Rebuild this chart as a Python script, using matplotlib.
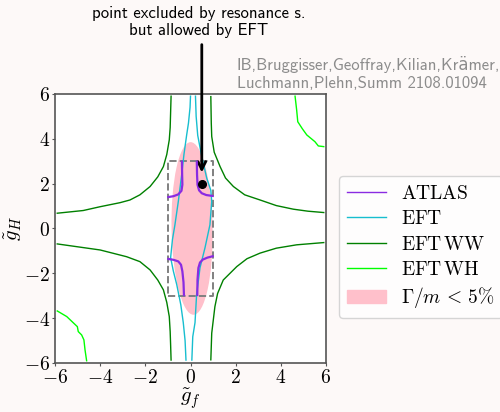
import numpy as np
import matplotlib.pyplot as plt
from matplotlib.patches import Ellipse

plt.rcParams['mathtext.fontset'] = 'cm'

# EFT WW contour (four branches)
ww_tl_x = [-0.86, -0.88, -0.90, -0.94, -1.05, -1.2, -1.45, -1.79, -2.24, -2.68, -3.12, -4.0, -4.75, -5.9]
ww_tl_y = [5.9, 5.2, 4.5, 3.95, 3.3, 2.76, 2.3, 1.87, 1.5, 1.27, 1.15, 0.97, 0.8, 0.68]
ww_bl_x = [-5.9, -4.0, -2.83, -2.24, -1.79, -1.45, -1.2, -1.05, -0.94, -0.9, -0.88, -0.86]
ww_bl_y = [-0.69, -0.96, -1.26, -1.48, -1.85, -2.3, -2.74, -3.3, -3.93, -4.6, -5.2, -5.87]
ww_tr_x = [0.9, 0.92, 0.94, 1.05, 1.31, 1.55, 1.9, 2.4, 3.08, 3.8, 4.55, 5.2, 5.9]
ww_tr_y = [5.88, 4.7, 4.1, 3.4, 2.76, 2.25, 1.87, 1.5, 1.27, 1.02, 0.86, 0.77, 0.71]
ww_br_x = [5.9, 4.7, 3.8, 3.08, 2.5, 2.05, 1.45, 1.2, 1.08, 0.94, 0.9]
ww_br_y = [-0.63, -0.73, -0.88, -1.1, -1.35, -1.7, -2.3, -2.9, -3.49, -4.67, -5.86]

# EFT WH contour
wh_tr_x = [4.63, 4.7, 4.75, 4.95, 5.15, 5.51, 5.66, 5.9]
wh_tr_y = [5.9, 5.29, 4.76, 4.45, 4.17, 3.87, 3.68, 3.65]
wh_bl_x = [-5.9, -5.48, -5.01, -4.97, -4.82, -4.72, -4.67, -4.6]
wh_bl_y = [-3.68, -3.93, -4.38, -4.6, -4.75, -4.97, -5.42, -5.9]

# EFT contour
eft_l_x = [0.0, -0.02, -0.09, -0.17, -0.29, -0.39, -0.54, -0.69, -0.8, -0.88, -0.76, -0.61, -0.43, -0.32, -0.24, -0.2]
eft_l_y = [5.9, 5.4, 4.7, 4.17, 3.3, 2.4, 1.2, 0.16, -0.5, -1.3, -1.9, -2.5, -3.4, -4.2, -5.0, -5.87]
eft_r_x = [0.22, 0.25, 0.32, 0.5, 0.72, 0.9, 0.94, 0.86, 0.64, 0.42, 0.27, 0.2, 0.1, 0.06]
eft_r_y = [5.9, 5.0, 4.15, 3.2, 2.24, 1.7, 1.2, 0.16, -0.87, -1.76, -2.95, -4.2, -4.83, -5.87]

# ATLAS contour (four corners)
atl_tl_x = [-0.38, -0.37, -0.36, -0.40, -0.54, -0.75, -0.98]
atl_tl_y = [2.98, 2.4, 1.95, 1.68, 1.52, 1.44, 1.4]
atl_tr_x = [0.28, 0.29, 0.31, 0.38, 0.5, 0.7, 0.98]
atl_tr_y = [2.98, 2.4, 1.95, 1.7, 1.57, 1.49, 1.45]
atl_bl_x = [-0.98, -0.75, -0.54, -0.42, -0.36, -0.31, -0.29]
atl_bl_y = [-1.36, -1.4, -1.47, -1.62, -1.91, -2.4, -2.97]
atl_br_x = [0.98, 0.75, 0.54, 0.42, 0.35, 0.31, 0.3]
atl_br_y = [-1.24, -1.3, -1.39, -1.52, -1.76, -2.3, -2.97]

# Gamma/m < 5% region (ellipse), scan box, highlighted point
ell_center = (0.07, 0.0)
ell_w, ell_h, ell_angle = 1.82, 7.7, 1.0
box_x = [-1, 1, 1, -1, -1]
box_y = [-3, -3, 3, 3, -3]
pt_x, pt_y = 0.5, 2.0

ticks = [-6, -4, -2, 0, 2, 4, 6]

fig = plt.figure(figsize=(5, 4.12), dpi=100, facecolor='#fdf9f8')
ax = fig.add_axes([0.11, 0.119, 0.542, 0.653])

atl_c = '#8a2be2'
for xs, ys in [(atl_tl_x, atl_tl_y), (atl_tr_x, atl_tr_y), (atl_bl_x, atl_bl_y), (atl_br_x, atl_br_y)]:
    ax.plot(xs, ys, color=atl_c, lw=1.6, zorder=4)
for xs, ys in [(eft_l_x, eft_l_y), (eft_r_x, eft_r_y)]:
    ax.plot(xs, ys, color='#17becf', lw=1.0, zorder=3)
for xs, ys in [(ww_tl_x, ww_tl_y), (ww_bl_x, ww_bl_y), (ww_tr_x, ww_tr_y), (ww_br_x, ww_br_y)]:
    ax.plot(xs, ys, color='#008000', lw=1.0, zorder=3)
for xs, ys in [(wh_tr_x, wh_tr_y), (wh_bl_x, wh_bl_y)]:
    ax.plot(xs, ys, color='#00ff00', lw=1.0, zorder=3)

ax.add_patch(Ellipse(ell_center, ell_w, ell_h, angle=ell_angle, color='pink', lw=0, zorder=1))
ax.plot(box_x, box_y, color='gray', ls='--', lw=1.4, zorder=2)
ax.plot(pt_x, pt_y, 'o', color='black', ms=5.5, zorder=6)

ax.annotate('', xy=(pt_x, pt_y), xytext=(pt_x, 8.2), annotation_clip=False,
            arrowprops=dict(arrowstyle='->', lw=2, color='black', shrinkA=0, shrinkB=8, mutation_scale=14))

ax.set_xlim(-6, 6)
ax.set_ylim(-6, 6)
ax.set_xticks(ticks)
ax.set_yticks(ticks)
ax.set_xticklabels([f'${t}$' for t in ticks], fontsize=14)
ax.set_yticklabels([f'${t}$' for t in ticks], fontsize=14)
ax.tick_params(direction='out', length=2.5, color='#555555', pad=1)
for s in ax.spines.values():
    s.set_color('#555555')
    s.set_linewidth(1.2)
ax.set_xlabel(r'$\tilde{g}_f$', fontsize=15, labelpad=0)
ax.set_ylabel(r'$\tilde{g}_H$', fontsize=15, labelpad=0)

h = [plt.Line2D([], [], color=atl_c, lw=1.0),
     plt.Line2D([], [], color='#17becf', lw=1.0),
     plt.Line2D([], [], color='#008000', lw=1.0),
     plt.Line2D([], [], color='#00ff00', lw=1.0),
     plt.Rectangle((0, 0), 1, 1, color='pink')]
labels = [r'$\mathrm{ATLAS}$', r'$\mathrm{EFT}$', r'$\mathrm{EFT\,WW}$', r'$\mathrm{EFT\,WH}$', r'$\Gamma/m\,<\,5\%$']
fig.legend(h, labels, loc='upper left', bbox_to_anchor=(0.678, 0.573), fontsize=14,
           borderaxespad=0, handlelength=2.0, labelspacing=0.33)

fig.text(0.397, 0.985, 'point excluded by resonance s.\nbut allowed by EFT', ha='center', va='top',
         fontsize=12, family=['cmss10', 'DejaVu Sans'], linespacing=1.15)
fig.text(0.474, 0.865, 'IB,Bruggisser,Geoffray,Kilian,Kr\u00e4mer,\nLuchmann,Plehn,Summ 2108.01094',
         ha='left', va='top', fontsize=12, color='#8c8c8c', family=['cmss10', 'DejaVu Sans'], linespacing=1.25)

plt.savefig('out.png', facecolor=fig.get_facecolor())
